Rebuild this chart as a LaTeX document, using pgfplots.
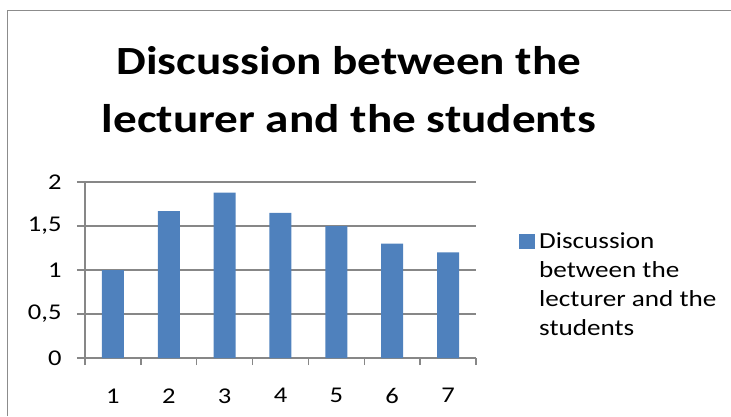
\documentclass[border=0pt]{standalone}
\usepackage{fontspec}
\setmainfont{Carlito}[FakeStretch=1.18]
\usepackage{pgfplots}
\pgfplotsset{compat=1.18}

\definecolor{barblue}{HTML}{4F81BD}
\definecolor{gridgray}{HTML}{878787}
\definecolor{framegray}{HTML}{8C8C8C}

\begin{document}
\begin{tikzpicture}[x=1pt,y=1pt]
  % canvas and chart frame (top and left edges of the chart area)
  \path[use as bounding box] (0,0) rectangle (731,416);
  \draw[framegray, line width=1.6pt] (7.5,0) -- (7.5,405.5) -- (731,405.5);

  \begin{axis}[
    at={(85pt,58pt)}, anchor=origin,
    scale only axis,
    width=391pt, height=176pt,
    xmin=0.5, xmax=7.5,
    ymin=0, ymax=2,
    ytick={0,0.5,1,1.5,2},
    xtick={1,2,3,4,5,6,7},
    minor xtick={0.5,1.5,2.5,3.5,4.5,5.5,6.5,7.5},
    axis x line*=bottom,
    axis y line*=left,
    axis line style={gridgray, line width=1.3pt, -},
    tick align=outside,
    major tick length=8pt,
    minor tick length=7pt,
    every major x tick/.append style={draw=none},
    every minor x tick/.append style={gridgray, line width=1.3pt},
    every major y tick/.append style={gridgray, line width=1.3pt},
    ymajorgrids,
    major grid style={gridgray, line width=1.3pt},
    /pgf/number format/use comma,
    /pgf/number format/assume math mode=true,
    tick label style={font=\fontsize{22.5}{27}\selectfont, text=black},
    yticklabel style={xshift=-12pt},
    xticklabel style={yshift=-19pt},
    title={Discussion between the\\lecturer and the students},
    title style={at={(axis description cs:0.675,1.2955)}, anchor=base, yshift=-9pt,
                 align=center, font=\fontsize{40}{58}\selectfont\bfseries},
    ybar,
    bar width=22pt,
    legend style={at={(axis description cs:1.110,0.7227)}, anchor=north west,
                  draw=none, fill=none, inner sep=0pt,
                  cells={anchor=base west, inner sep=0pt},
                  font=\fontsize{23}{29}\selectfont,
                  /tikz/every odd column/.append style={column sep=2pt}},
    % marker sits beside the first line of the wrapped entry
    legend image code/.code={\fill[#1] (0pt,86.5pt) rectangle (16pt,102pt);},
  ]
    \addplot[fill=barblue, draw=none] coordinates {
      (1,1.00) (2,1.67) (3,1.88) (4,1.65) (5,1.50) (6,1.30) (7,1.20)
    };
    \addlegendentry[align=left]{Discussion\\between the\\lecturer and the\\students}
  \end{axis}
\end{tikzpicture}
\end{document}
